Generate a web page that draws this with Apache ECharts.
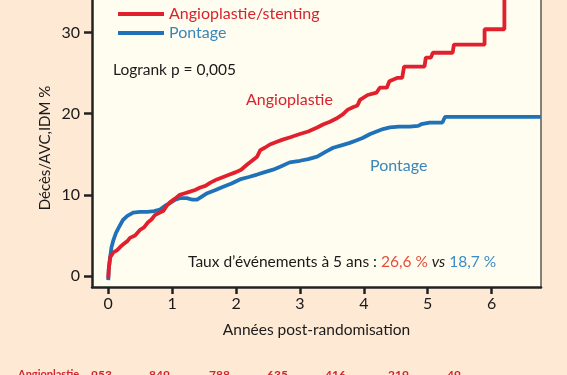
<!DOCTYPE html>
<html>
<head>
<meta charset="utf-8">
<script src="https://cdn.jsdelivr.net/npm/echarts@6/dist/echarts.min.js"></script>
<style>
html,body{margin:0;padding:0;background:#fde9d4;}
#chart{width:567px;height:375px;}
</style>
</head>
<body>
<div id="chart"></div>
<script>
// ---- data ----
var seriesNames = ['Angioplastie/stenting', 'Pontage'];
var xTickValues = [0, 1, 2, 3, 4, 5, 6];
var yTickValues = [0, 10, 20, 30];
// Angioplastie/stenting : [years, %]
var angioData = [
  [0, -0.3], [0.01, 1.0], [0.03, 2.3], [0.08, 2.9], [0.14, 3.2], [0.19, 3.6], [0.25, 4.0], [0.3, 4.3],
  [0.34, 4.7], [0.42, 5.0], [0.5, 5.7], [0.56, 6.0], [0.62, 6.6], [0.68, 7.0], [0.73, 7.5], [0.8, 7.8],
  [0.86, 8.0], [0.92, 8.7], [0.97, 9.1], [1.04, 9.5], [1.12, 10.0], [1.2, 10.2], [1.28, 10.4], [1.36, 10.6],
  [1.44, 10.9], [1.52, 11.1], [1.6, 11.5], [1.7, 11.9], [1.8, 12.2], [1.9, 12.5], [2.0, 12.8], [2.08, 13.1],
  [2.17, 13.7], [2.25, 14.2], [2.33, 14.7], [2.38, 15.5], [2.45, 15.8], [2.53, 16.2], [2.63, 16.5], [2.73, 16.8],
  [2.85, 17.1], [3.0, 17.5], [3.13, 17.8], [3.27, 18.3], [3.37, 18.7], [3.47, 19.0], [3.57, 19.4], [3.67, 19.9],
  [3.75, 20.5], [3.83, 20.8], [3.9, 21.0], [3.94, 21.7], [4.06, 22.3], [4.2, 22.6], [4.25, 23.2], [4.36, 23.2],
  [4.4, 24.0], [4.52, 24.4], [4.6, 24.4], [4.63, 25.8], [4.95, 25.8], [4.97, 26.9], [5.05, 26.9], [5.08, 27.5],
  [5.39, 27.5], [5.41, 28.5], [5.89, 28.5], [5.89, 30.4], [6.2, 30.4], [6.2, 37]
];
// Pontage : [years, %]
var pontageData = [
  [0, -0.5], [0.01, 1.0], [0.03, 2.3], [0.05, 3.5], [0.08, 4.4], [0.12, 5.3], [0.16, 5.9], [0.23, 6.9],
  [0.3, 7.4], [0.39, 7.8], [0.5, 7.9], [0.61, 7.9], [0.72, 8.0], [0.81, 8.2], [0.9, 8.7], [0.97, 9.0],
  [1.05, 9.4], [1.12, 9.6], [1.23, 9.6], [1.32, 9.4], [1.39, 9.4], [1.47, 9.8], [1.55, 10.2], [1.68, 10.6],
  [1.8, 11.0], [1.93, 11.4], [2.06, 11.9], [2.2, 12.2], [2.33, 12.5], [2.45, 12.8], [2.58, 13.1], [2.7, 13.5],
  [2.84, 14.0], [3.0, 14.2], [3.13, 14.4], [3.27, 14.7], [3.4, 15.3], [3.52, 15.8], [3.65, 16.1], [3.78, 16.4],
  [3.88, 16.7], [3.98, 17.0], [4.1, 17.5], [4.2, 17.8], [4.3, 18.1], [4.41, 18.3], [4.55, 18.4], [4.72, 18.4],
  [4.85, 18.5], [4.9, 18.7], [5.03, 18.9], [5.23, 18.9], [5.27, 19.6], [6.77, 19.6]
];
var atRiskLabel = 'Angioplastie';
var atRiskValues = ['953', '849', '788', '635', '416', '219', '49'];

// ---- styles ----
var FONT = 'Lato';
var RED = '#e0202c';
var BLUE = '#1f72b8';
var RED_TXT = '#d7232d';
var BLUE_TXT = '#3a86b8';

var chart = echarts.init(document.getElementById('chart'));

var graphics = [
  { type: 'text', left: 113, top: 62, style: { text: 'Logrank p = 0,005', font: '15.5px ' + FONT, fill: '#1a1a1a' } },
  { type: 'text', left: 246, top: 92, style: { text: 'Angioplastie', font: '16px ' + FONT, fill: RED_TXT } },
  { type: 'text', left: 370, top: 158, style: { text: 'Pontage', font: '16px ' + FONT, fill: BLUE_TXT } },
  { type: 'text', left: 188, top: 254, style: {
      text: '{a|Taux d\u2019\u00e9v\u00e9nements \u00e0 5 ans : }{r|26,6 %}{a| }{i|vs}{a| }{b|18,7 %}',
      rich: {
        a: { font: '15.5px ' + FONT, fill: '#1a1a1a' },
        r: { font: '15.5px ' + FONT, fill: '#e0503c' },
        i: { font: 'italic 15.5px ' + FONT, fill: '#1a1a1a' },
        b: { font: '15.5px ' + FONT, fill: '#3a8cc8' }
      }
  } },
  { type: 'text', x: 45, y: 148, rotation: Math.PI / 2, style: {
      text: 'D\u00e9c\u00e8s/AVC,IDM %', font: '15px ' + FONT, fill: '#1a1a1a',
      align: 'center', verticalAlign: 'middle' } },
  { type: 'text', left: 18, top: 369, style: { text: atRiskLabel, font: 'bold 11px ' + FONT, fill: RED_TXT } }
];
var atRiskX = [91, 149, 209, 267, 325, 388, 447];
atRiskValues.forEach(function (v, i) {
  graphics.push({ type: 'text', left: atRiskX[i], top: 369, style: { text: v, font: 'bold 12px ' + FONT, fill: RED_TXT } });
});

var option = {
  backgroundColor: '#fde9d4',
  animation: false,
  textStyle: { fontFamily: FONT },
  grid: { left: 92, right: 26, top: 0, bottom: 88, show: true, backgroundColor: '#fffdf0', borderWidth: 0 },
  legend: {
    orient: 'vertical', left: 113, top: 1, itemWidth: 46, itemHeight: 4, itemGap: 3, icon: 'rect',
    textStyle: { fontSize: 16, fontFamily: FONT, lineHeight: 16 },
    data: [
      { name: seriesNames[0], textStyle: { color: RED_TXT } },
      { name: seriesNames[1], textStyle: { color: BLUE_TXT } }
    ]
  },
  xAxis: {
    type: 'value', min: -0.254, max: 6.773,
    name: 'Ann\u00e9es post-randomisation', nameLocation: 'middle', nameGap: 35,
    nameTextStyle: { fontSize: 15.5, color: '#1a1a1a', fontFamily: FONT },
    axisLine: { show: true, onZero: false, lineStyle: { color: '#222', width: 2.5 } },
    axisTick: { show: true, length: 7, lineStyle: { color: '#222', width: 2.5 }, customValues: xTickValues },
    axisLabel: { fontSize: 16, color: '#1a1a1a', margin: 9, customValues: xTickValues, fontFamily: FONT },
    splitLine: { show: false }
  },
  yAxis: [{
    type: 'value', min: -1.35, max: 34.0,
    axisLine: { show: true, onZero: false, lineStyle: { color: '#222', width: 2.5 } },
    axisTick: { show: true, length: 8, lineStyle: { color: '#222', width: 2.5 }, customValues: yTickValues },
    axisLabel: { fontSize: 16, color: '#1a1a1a', margin: 12, customValues: yTickValues, fontFamily: FONT },
    splitLine: { show: false }
  }, {
    type: 'value', min: -1.35, max: 34.0, position: 'right',
    axisLine: { show: true, onZero: false, lineStyle: { color: '#5a5a5a', width: 1.5 } },
    axisTick: { show: false }, axisLabel: { show: false }, splitLine: { show: false }
  }],
  series: [
    { name: seriesNames[1], type: 'line', data: pontageData, showSymbol: false, smooth: false,
      lineStyle: { color: BLUE, width: 3.8 }, itemStyle: { color: BLUE }, z: 2 },
    { name: seriesNames[0], type: 'line', data: angioData, showSymbol: false, smooth: false,
      lineStyle: { color: RED, width: 3.8 }, itemStyle: { color: RED }, z: 3 }
  ],
  graphic: graphics
};
chart.setOption(option);
</script>
</body>
</html>
